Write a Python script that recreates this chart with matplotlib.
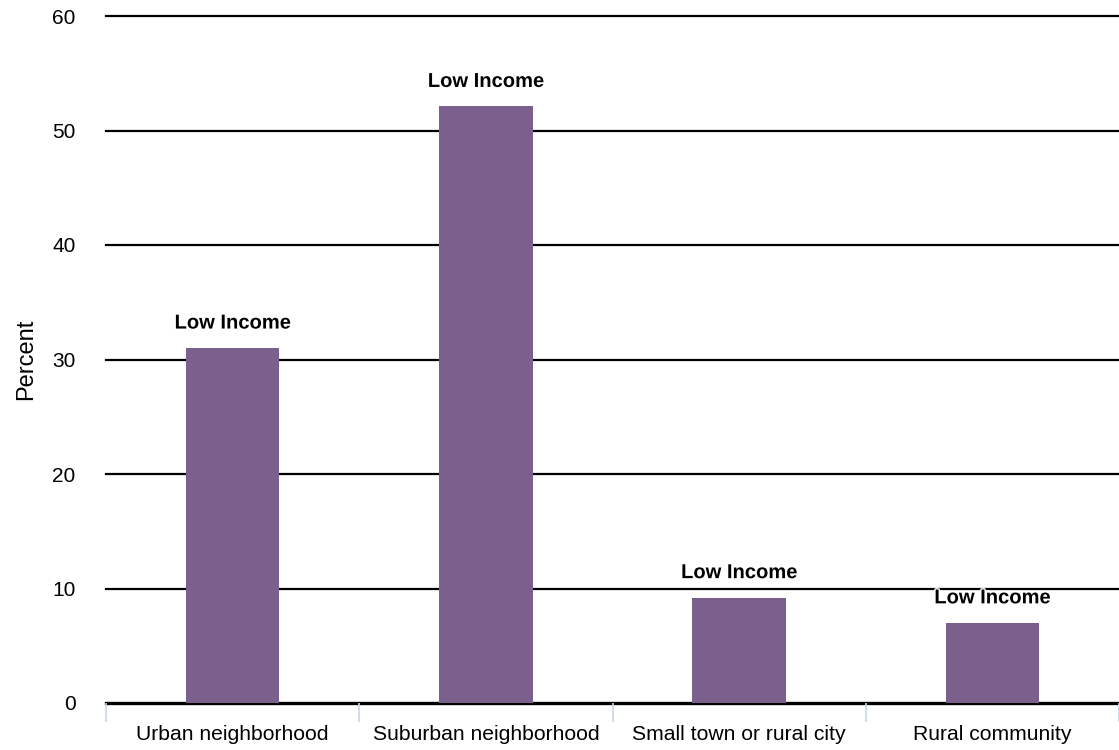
import matplotlib
matplotlib.use("Agg")
import matplotlib.pyplot as plt
import matplotlib.patheffects as pe
import numpy as np

categories = ["Urban neighborhood", "Suburban neighborhood", "Small town or rural city", "Rural community"]
values = [31.0, 52.1, 9.2, 7.0]
bar_labels = ["Low Income", "Low Income", "Low Income", "Low Income"]
yticks = [0, 10, 20, 30, 40, 50, 60]

plt.rcParams['font.family'] = ['Liberation Sans', 'DejaVu Sans']

fig = plt.figure(figsize=(11.19, 7.5), dpi=100)
ax = fig.add_axes([106/1119, 1 - 703/750, 1 - 106/1119, (703 - 16)/750])

x = np.arange(len(categories))
ax.bar(x, values, width=0.37, color="#7b608e", zorder=2)

for xi, v, lab in zip(x, values, bar_labels):
    ax.annotate(lab, (xi, v), xytext=(0, 18), textcoords="offset points",
                ha="center", va="center", fontsize=14.5, fontweight="bold",
                zorder=4,
                path_effects=[pe.withStroke(linewidth=2, foreground="white")])

ax.set_xlim(-0.5, 3.5)
ax.set_ylim(0, 60)
ax.set_yticks(yticks)
ax.set_yticklabels([str(t) for t in yticks], fontsize=15)
for t in yticks:
    ax.axhline(t, color="black", lw=2.4 if t == 0 else 1.6, zorder=1, clip_on=False)

ax.set_xticks(x)
ax.set_xticklabels(categories, fontsize=15.2)
ax.set_xticks(np.arange(-0.5, 3.6, 1.0), minor=True)
ax.tick_params(axis="x", which="major", length=0, pad=16)
ax.tick_params(axis="x", which="minor", length=14, width=1.2, color="#c9d5ea")
ax.tick_params(axis="y", length=0, pad=22)

for s in ax.spines.values():
    s.set_visible(False)

ax.set_ylabel("Percent", fontsize=17, labelpad=11)

fig.savefig("out.png", dpi=100)
